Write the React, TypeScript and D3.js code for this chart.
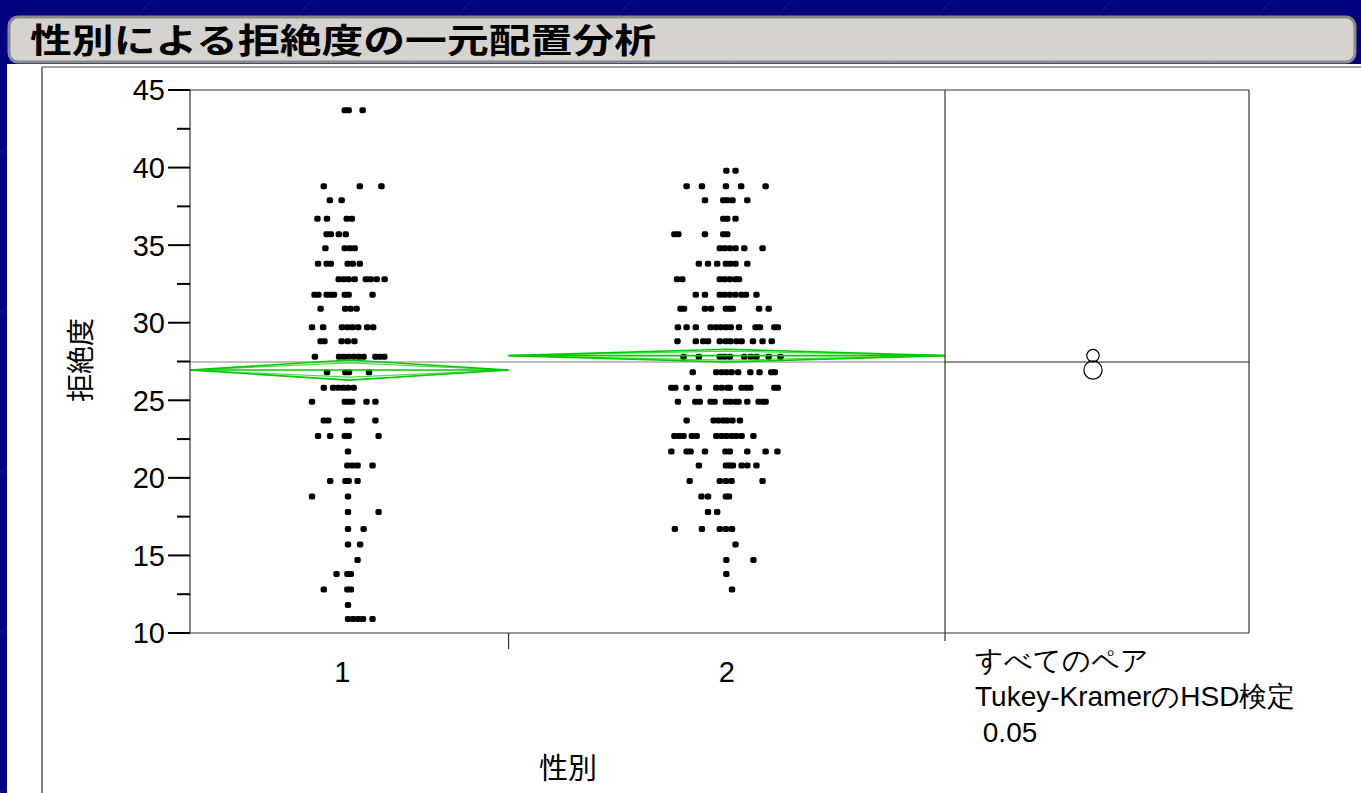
import React from "react";
import * as d3 from "d3";

// ---- data ----
const groups = ["1", "2"];
const groupWeights = [1, 1.37]; // relative band widths on the x axis
const groupMeans = [26.95, 27.88];
const groupCI = [0.65, 0.41]; // half width of the 95% CI (mean diamonds)
const circleRadius = [0.59, 0.4]; // comparison circle radii, in y units
const grandMean = 27.46;
const yTicks = [10, 15, 20, 25, 30, 35, 40, 45];
const yMinorTicks = [12.5, 17.5, 22.5, 27.5, 32.5, 37.5, 42.5];

// each row: [拒絶度 value, jitter offsets in % of the group's band width]
const group1Rows: [number, number[]][] = [
  [43.7, [-1.4, -0.2, 4.2]],
  [38.8, [-8.0, 3.3, 10.1]],
  [37.9, [-6.1, -2.4]],
  [36.7, [-10.0, -7.0, -0.8, 0.8]],
  [35.7, [-7.1, -5.8, -3.3, -1.1]],
  [34.8, [-7.5, -1.4, 0.2, 1.7]],
  [33.8, [-9.8, -7.1, -5.8, -0.5, 1.1, 3.3]],
  [32.8, [-3.3, -1.7, -0.2, 1.7, 5.2, 6.7, 8.6, 11.1]],
  [31.8, [-10.9, -9.7, -7.1, -5.9, -4.8, -1.4, -0.2, 7.3]],
  [30.9, [-9.0, -1.3, 0.4, 2.3]],
  [29.7, [-11.7, -8.2, -2.3, -0.6, 1.0, 2.8, 5.6, 7.5]],
  [28.8, [-9.0, -7.8, -2.4, -0.5, 1.6]],
  [27.8, [-10.8, -3.2, -1.7, -0.2, 1.4, 3.0, 4.5, 8.2, 9.6, 11.0]],
  [26.8, [-7.0, -1.2, -0.1, 6.2]],
  [25.8, [-8.0, -5.1, -3.5, -1.9, -0.4, 1.4]],
  [24.9, [-11.7, -1.4, -0.1, 0.9, 5.4, 8.2]],
  [23.7, [-8.0, -6.6, -0.7, 0.7, 8.2]],
  [22.7, [-9.8, -6.0, -1.4, -0.2, 9.2]],
  [21.7, [-0.4]],
  [20.8, [-0.6, 1.0, 2.6, 7.3]],
  [19.8, [-6.0, -1.2, -0.2, 2.6]],
  [18.8, [-11.7, -0.4]],
  [17.8, [-0.4, 9.2]],
  [16.7, [-0.4, 4.5]],
  [15.7, [-0.4, 3.4]],
  [14.7, [2.6]],
  [13.8, [-4.0, -0.6, 0.5]],
  [12.8, [-8.0, -0.6, 0.5]],
  [11.8, [-0.4]],
  [10.9, [-0.4, 1.2, 2.8, 4.3, 7.3]],
];

const group2Rows: [number, number[]][] = [
  [39.8, [-0.1, 2.0]],
  [38.8, [-9.2, -5.7, -0.2, 3.3, 8.9]],
  [37.9, [-5.0, -0.8, 0.1, 1.3, 4.7]],
  [36.7, [-0.8, 0.1, 2.0]],
  [35.7, [-12.0, -11.1, -5.0, -0.8, 0.1]],
  [34.8, [-1.6, -0.5, 0.7, 2.0, 4.0, 8.2]],
  [33.8, [-6.4, -4.3, -2.2, -0.2, 0.8, 2.0, 4.7]],
  [32.8, [-11.4, -10.2, -1.6, -0.5, 0.7, 2.0, 2.8]],
  [31.8, [-7.1, -5.0, -1.6, -0.5, 0.7, 2.0, 3.4, 4.4, 6.8]],
  [30.9, [-10.6, -9.8, -5.0, -3.6, -0.2, 0.7, 1.4, 7.4, 9.6]],
  [29.7, [-11.2, -9.2, -7.1, -3.7, -2.5, -1.4, -0.2, 0.9, 2.8, 6.6, 7.6, 10.9, 11.7]],
  [28.8, [-11.3, -7.1, -5.4, -4.3, -1.6, -0.2, 0.8, 2.2, 3.4, 6.0, 8.2, 10.3]],
  [27.8, [-9.9, -6.4, -1.6, -0.5, 0.7, 4.0, 5.5, 6.8, 9.6, 12.3]],
  [26.8, [-7.8, -2.4, -1.2, -0.1, 1.1, 2.6, 5.4, 7.5, 10.2, 11.0]],
  [25.8, [-12.7, -11.8, -9.2, -6.4, -2.4, -1.2, 0.1, 0.7, 3.4, 4.5, 5.4, 10.9, 11.7]],
  [24.9, [-11.2, -7.2, -6.2, -3.7, -2.8, -0.2, 0.8, 2.0, 2.7, 4.7, 7.3, 8.3, 8.9]],
  [23.7, [-9.2, -3.0, -1.9, -0.8, 0.1, 1.3, 3.0]],
  [22.7, [-12.0, -10.9, -9.9, -8.0, -6.9, -2.4, -1.2, -0.1, 1.1, 2.2, 3.4, 6.1]],
  [21.7, [-12.7, -9.2, -8.3, -5.0, -0.3, 0.7, 4.7, 8.9, 11.6]],
  [20.8, [-6.4, -0.2, 0.7, 1.4, 3.4, 4.7, 6.8]],
  [19.8, [-8.5, -1.6, -0.2, 1.1, 8.2]],
  [18.8, [-5.8, -4.3, -0.2, 0.5]],
  [17.8, [-4.3, -2.2]],
  [16.7, [-11.9, -5.7, -1.6, -0.2, 1.2]],
  [15.7, [2.0]],
  [14.7, [-0.1, 6.1]],
  [13.8, [-0.1]],
  [12.8, [1.2]],
];

const title = "性別による拒絶度の一元配置分析";
const xTitle = "性別";
const yTitle = "拒絶度";
const testLines = ["すべてのペア", "Tukey-KramerのHSD検定", " 0.05"];

const W = 1361;
const H = 793;
const FONT = "'Liberation Sans', Arial, sans-serif";
const CJK = "'Noto Sans CJK JP', sans-serif";
const GREEN = "#00cc00";

export default function App() {
  const left = 190;
  const right = 1249;
  const top = 90;
  const bottom = 633;
  const split = 945; // start of the comparison-circle panel

  const y = d3.scaleLinear().domain([10, 45]).range([bottom, top]);
  const totalW = d3.sum(groupWeights);
  const x = d3.scaleLinear().domain([0, totalW]).range([left, split]);
  const bands = groups.map((g, i) => {
    const s = d3.sum(groupWeights.slice(0, i));
    const x0 = x(s);
    const x1 = x(s + groupWeights[i]);
    return { g, x0, x1, cx: (x0 + x1) / 2, w: x1 - x0 };
  });
  const circleX = (split + right) / 2 - 4;
  const rows = [group1Rows, group2Rows];

  const diagonals = d3.range(-6, 14).map((i) => i * 160);

  return (
    <svg
      width={W}
      height={H}
      style={{ position: "absolute", left: 0, top: 0, display: "block" }}
      fontFamily={FONT}
    >
      {/* background */}
      <rect x={0} y={0} width={W} height={H} fill="#03037f" />
      {diagonals.map((d, i) => (
        <line
          key={i}
          x1={d}
          y1={H}
          x2={d + 900}
          y2={H - 900}
          stroke="#4a4ab0"
          strokeOpacity={0.35}
          strokeWidth={1}
        />
      ))}

      {/* title bar */}
      <rect
        x={9}
        y={17}
        width={1346}
        height={45}
        rx={9}
        fill="#d6d3ce"
        stroke="#8a8a8a"
        strokeWidth={3}
      />
      <text
        x={30}
        y={53}
        fontSize={34}
        fontWeight="bold"
        fontFamily={CJK}
        textLength={626}
        lengthAdjust="spacingAndGlyphs"
        fill="#000"
      >
        {title}
      </text>

      {/* report panel */}
      <rect x={7} y={64} width={W - 7} height={H - 64} fill="#fff" />
      <line x1={42} y1={67} x2={42} y2={H} stroke="#808080" strokeWidth={2} />
      <line x1={42} y1={67} x2={W} y2={67} stroke="#808080" strokeWidth={1.5} />

      {/* grand mean */}
      <line
        x1={left}
        x2={split}
        y1={y(grandMean)}
        y2={y(grandMean)}
        stroke="#c4c0bc"
        strokeWidth={2}
      />
      <line
        x1={split}
        x2={right}
        y1={y(grandMean)}
        y2={y(grandMean)}
        stroke="#6a6a6a"
        strokeWidth={1.5}
      />

      {/* points */}
      {rows.map((gr, gi) =>
        gr.flatMap(([v, js], ri) =>
          js.map((j, k) => (
            <rect
              key={`${gi}-${ri}-${k}`}
              x={bands[gi].cx + (j / 100) * bands[gi].w - 3.2}
              y={y(v) - 3}
              width={6.4}
              height={6}
              rx={2}
              fill="#000"
            />
          ))
        )
      )}

      {/* mean diamonds with overlap marks */}
      {bands.map((b, i) => {
        const m = y(groupMeans[i]);
        const hi = y(groupMeans[i] + groupCI[i]) - m;
        const ov = hi / Math.SQRT2;
        const diamond = (h: number) =>
          d3.line()([
            [b.x0, m],
            [b.cx, m + h],
            [b.x1, m],
            [b.cx, m - h],
            [b.x0, m],
          ]) as string;
        return (
          <g key={b.g} fill="none" stroke={GREEN}>
            <path d={diamond(hi)} strokeWidth={1.6} />
            <path d={diamond(ov)} strokeWidth={1.2} strokeOpacity={0.7} />
            <line x1={b.x0} x2={b.x1} y1={m} y2={m} strokeWidth={1.6} />
          </g>
        );
      })}

      {/* frame */}
      <g stroke="#333" strokeWidth={1.2} fill="none">
        <line x1={left} x2={right} y1={top} y2={top} />
        <line x1={left} x2={right} y1={bottom} y2={bottom} />
        <line x1={left} x2={left} y1={top} y2={bottom} />
        <line x1={right} x2={right} y1={top} y2={bottom} />
        <line x1={split} x2={split} y1={top} y2={bottom + 8} />
        <line x1={bands[0].x1} x2={bands[0].x1} y1={bottom} y2={bottom + 16} />
      </g>

      {/* y axis */}
      {yTicks.map((t) => (
        <g key={t}>
          <line x1={left - 22} x2={left} y1={y(t)} y2={y(t)} stroke="#000" strokeWidth={2} />
          <text
            x={left - 25}
            y={y(t)}
            dy="0.36em"
            textAnchor="end"
            fontSize={29}
            fill="#000"
          >
            {t}
          </text>
        </g>
      ))}
      {yMinorTicks.map((t) => (
        <line key={t} x1={left - 13} x2={left} y1={y(t)} y2={y(t)} stroke="#000" strokeWidth={2} />
      ))}
      <text
        transform={`translate(${81},${y(27.6)}) rotate(-90)`}
        textAnchor="middle"
        dy="0.35em"
        fontSize={28}
        fontFamily={CJK}
        fill="#000"
      >
        {yTitle}
      </text>

      {/* x axis */}
      {bands.map((b) => (
        <text key={b.g} x={b.cx - (b.g === "1" ? 7 : 0)} y={682} textAnchor="middle" fontSize={29} fill="#000">
          {b.g}
        </text>
      ))}
      <text
        x={568}
        y={769}
        textAnchor="middle"
        dy="0.35em"
        fontSize={29}
        fontFamily={CJK}
        fill="#000"
      >
        {xTitle}
      </text>

      {/* comparison circles */}
      {groupMeans.map((m, i) => (
        <circle
          key={i}
          cx={circleX}
          cy={y(m)}
          r={y(m) - y(m + circleRadius[i])}
          fill="none"
          stroke="#000"
          strokeWidth={1.2}
        />
      ))}
      {testLines.map((t, i) => (
        <text
          key={i}
          x={975}
          y={670 + i * 36}
          fontSize={28}
          fill="#000"
          style={{ whiteSpace: "pre" }}
        >
          {t}
        </text>
      ))}
    </svg>
  );
}
